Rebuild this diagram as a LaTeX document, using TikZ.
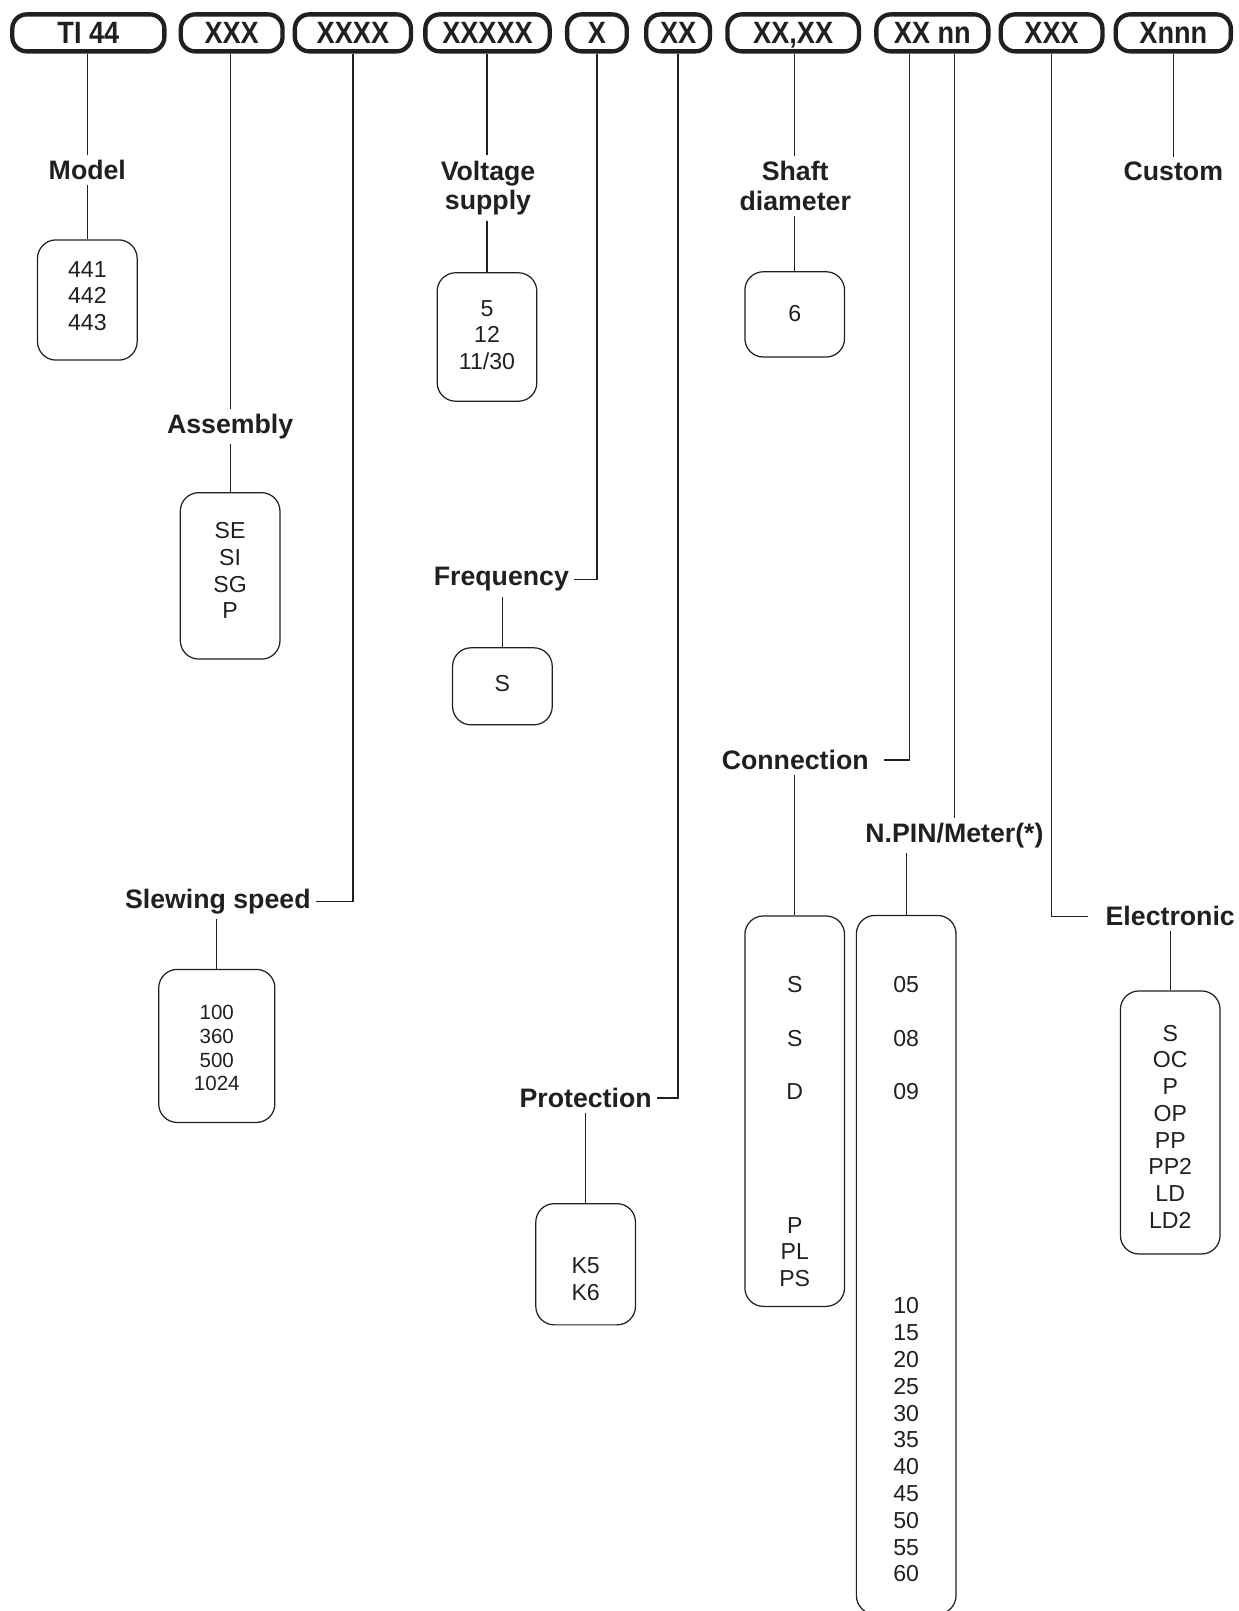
\documentclass[tikz,border=0pt]{standalone}
\usepackage{fontspec}
\setmainfont{Liberation Sans}
\newfontfamily\hdrfont[FakeStretch=0.88]{Liberation Sans}
\definecolor{ink}{HTML}{231F20}
\tikzset{
  hdrbox/.style={draw=ink, text=ink, line width=4.2pt, rounded corners=14pt,
    minimum height=36pt, inner sep=0pt, text height=21.5pt, text depth=0pt,
    font=\hdrfont\bfseries\fontsize{30}{30}\selectfont},
  optbox/.style={draw=ink, line width=1.2pt, rounded corners=18pt, minimum width=97pt},
  opttext/.style={align=center, inner sep=0pt, text=ink,
    font=\fontsize{22.5}{26}\selectfont},
  field/.style={align=center, inner sep=5pt, text=ink,
    font=\bfseries\fontsize{26}{29}\selectfont},
  wire/.style={draw=ink, line width=1.2pt},
}
\begin{document}
\begin{tikzpicture}[x=1pt, y=-1pt]
\useasboundingbox (0,0) rectangle (1205,1568);
% Order code
\node[hdrbox, minimum width=148pt] (ti) at (86,32) {TI 44};
\node[hdrbox, minimum width=99pt] (xa) at (225.5,32) {XXX};
\node[hdrbox, minimum width=113pt] (xb) at (343.5,32) {XXXX};
\node[hdrbox, minimum width=121pt] (xc) at (474.5,32) {XXXXX};
\node[hdrbox, minimum width=58pt] (xd) at (581,32) {X};
\node[hdrbox, minimum width=62pt] (xe) at (660,32) {XX};
\node[hdrbox, minimum width=128pt] (xf) at (772,32) {XX,XX};
\node[hdrbox, minimum width=109pt] (xg) at (907.5,32) {XX nn};
\node[hdrbox, minimum width=99pt] (xh) at (1023.5,32) {XXX};
\node[hdrbox, minimum width=112pt] (xi) at (1142,32) {Xnnn};

% Model
\node[field, anchor=base] (model) at (85,175) {Model};
\node[optbox, minimum height=117pt] (modelbox) at (85,292) {};
\node[opttext] (modeltxt) at (85,288) {441\\442\\443};
\draw[wire] (model |- ti.south) -- (model);
\draw[wire] (modelbox |- model.south) -- (modelbox);

% Assembly
\node[field, anchor=base] (asm) at (224,422) {Assembly};
\node[optbox, minimum height=162pt] (asmbox) at (224,560.5) {};
\node[opttext] (asmtxt) at (224,555.5) {SE\\SI\\SG\\P};
\draw[wire] (asm |- xa.south) -- (asm);
\draw[wire] (asmbox |- asm.south) -- (asmbox);

% Slewing speed
\node[field, anchor=base] (slew) at (212,884) {Slewing speed};
\node[optbox, minimum width=113pt, minimum height=149pt] (slewbox) at (211,1018) {};
\node[opttext, font=\fontsize{20}{23.3}\selectfont] (slewtxt) at (211,1020) {100\\360\\500\\1024};
\draw[wire] (xb.south) |- (slew.east);
\draw[wire] (slewbox |- slew.south) -- (slewbox);

% Voltage supply
\node[field] (volt) at (475,183) {Voltage\\supply};
\node[optbox, minimum height=125pt] (voltbox) at (474,328) {};
\node[opttext] (volttxt) at (474,326) {5\\12\\11/30};
\draw[wire] (voltbox |- xc.south) -- (voltbox |- volt.north);
\draw[wire] (voltbox |- volt.south) -- (voltbox);

% Frequency
\node[field, anchor=base] (freq) at (488,570) {Frequency};
\node[optbox, minimum height=75pt] (freqbox) at (489,668) {};
\node[opttext] (freqtxt) at (489,665) {S};
\draw[wire] (xd.south) |- (freq.east);
\draw[wire] (freqbox |- freq.south) -- (freqbox);

% Protection
\node[field, anchor=base] (prot) at (570,1078) {Protection};
\node[optbox, minimum height=118pt] (protbox) at (570,1230.5) {};
\node[opttext] (prottxt) at (570,1245) {K5\\K6};
\draw[wire] (xe.south) |- (prot.east);
\draw[wire] (protbox |- prot.south) -- (protbox);

% Shaft diameter
\node[field] (shaft) at (774,181) {Shaft\\diameter};
\node[optbox, minimum height=83pt] (shaftbox) at (773.5,306) {};
\node[opttext] (shafttxt) at (773.5,305) {6};
\draw[wire] (shaftbox |- xf.south) -- (shaftbox |- shaft.north);
\draw[wire] (shaftbox |- shaft.south) -- (shaftbox);

% Connection
\node[field, anchor=base] (conn) at (774,749) {Connection};
\node[optbox, minimum height=380pt] (connbox) at (773.5,1081.5) {};
\foreach \v/\y [count=\i] in {S/958, S/1011, D/1062}
  \node[opttext] (conn-\i) at (773.5,\y) {\v};
\node[opttext] (conn-4) at (773.5,1218.5) {P\\PL\\PS};
\draw[wire, shorten >=10pt] ([xshift=-22.5pt]xg.south) |- (conn.east);
\draw[wire] (connbox |- conn.south) -- (connbox);

% N.PIN / Meter
\node[field, anchor=base] (npin) at (929,820) {N.PIN/Meter(*)};
\node[optbox, minimum height=680pt] (npinbox) at (882,1231) {};
\foreach \v/\y [count=\i] in {05/958, 08/1011, 09/1062}
  \node[opttext] (npin-\i) at (882,\y) {\v};
\node[opttext, font=\fontsize{22.5}{26.1}\selectfont] (npin-4) at (882,1401.5)
  {10\\15\\20\\25\\30\\35\\40\\45\\50\\55\\60};
\draw[wire] (npin.north |- xg.south) -- (npin);
\draw[wire] (npinbox |- npin.south) -- (npinbox);

% Electronic
\node[field, anchor=base] (elec) at (1139,901) {Electronic};
\node[optbox, minimum height=256pt] (elecbox) at (1139,1092.5) {};
\node[opttext] (electxt) at (1139,1096.5) {S\\OC\\P\\OP\\PP\\PP2\\LD\\LD2};
\draw[wire, shorten >=12pt] (xh.south) |- (elec.west);
\draw[wire] (elecbox |- elec.south) -- (elecbox);

% Custom
\node[field, anchor=base] (custom) at (1142,176) {Custom};
\draw[wire] (custom |- xi.south) -- (custom);
\end{tikzpicture}
\end{document}
